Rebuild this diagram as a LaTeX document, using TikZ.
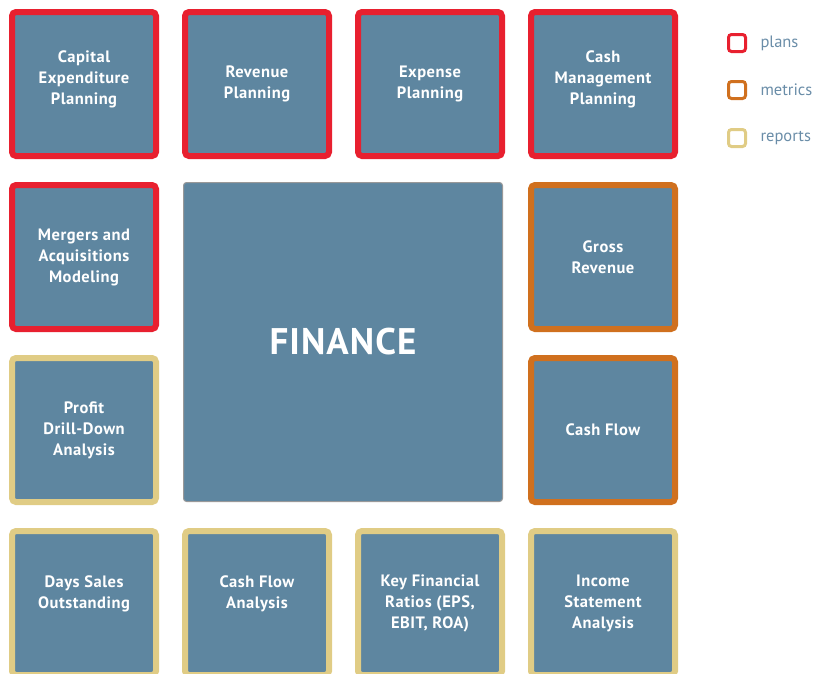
\documentclass[tikz,border=0pt]{standalone}
\usepackage{fontspec}
\setmainfont{PT Sans}
\newfontfamily\tilefont{PT Sans}[LetterSpace=3]
\usetikzlibrary{positioning}
\definecolor{tileblue}{HTML}{5E86A0}
\definecolor{planred}{HTML}{E8202F}
\definecolor{metricorange}{HTML}{D0701E}
\definecolor{reporttan}{HTML}{E0CC85}
\definecolor{keytext}{HTML}{6A8DA8}
\tikzstyle{tile}=[rectangle, fill=tileblue, line width=6pt, rounded corners=4pt, minimum size=144pt, inner sep=0pt, text=white, align=center, font=\tilefont\bfseries\fontsize{16.5}{21}\selectfont]
\tikzstyle{plan}=[tile, draw=planred]
\tikzstyle{metric}=[tile, draw=metricorange]
\tikzstyle{report}=[tile, draw=reporttan]
\tikzstyle{hub}=[rectangle, fill=tileblue, draw=gray!80, line width=1pt, rounded corners=3pt, minimum size=319pt, inner sep=0pt, text=white, font=\tilefont\bfseries\fontsize{37}{42}\selectfont]
\tikzstyle{key}=[rectangle, fill=white, line width=3pt, rounded corners=3pt, minimum size=17pt, inner sep=0pt]
\tikzstyle{keylabel}=[text=keytext, font=\fontsize{16.5}{19}\selectfont]

\begin{document}
\begin{tikzpicture}[node distance=173pt]
				\useasboundingbox (0,0) rectangle (817pt,-673pt);
				\node[plan] (capex) at (84pt,-84pt) {Capital\\Expenditure\\Planning\\[-9pt]};
				\node[plan] (revenue) [right of=capex] {Revenue\\Planning};
				\node[plan] (expense) [right of=revenue] {Expense\\Planning};
				\node[plan] (cashmgmt) [right of=expense] {Cash\\Management\\Planning\\[-9pt]};
				\node[plan] (mergers) [below of=capex] {Mergers and\\Acquisitions\\Modeling};

				\node[metric] (gross) [below of=cashmgmt] {Gross\\Revenue};
				\node[metric] (cashflow) [below of=gross] {Cash Flow};

				\node[report] (profit) [below of=mergers] {Profit\\Drill-Down\\Analysis};
				\node[report] (dso) [below of=profit] {Days Sales\\Outstanding\\[0pt]};
				\node[report] (cfa) [right of=dso] {Cash Flow\\Analysis\\[0pt]};
				\node[report] (ratios) [right of=cfa] {Key Financial\\Ratios (EPS,\\EBIT, ROA)};
				\node[report] (income) [right of=ratios] {Income\\Statement\\Analysis};

				\node[hub] (finance) at (343pt,-342pt) {FINANCE};

				% legend
				\node[key, draw=planred] (kplans) at (737pt,-43pt) [label={[keylabel, xshift=10pt]0:plans}] {};
				\node[key, draw=metricorange] (kmetrics) [below of=kplans, node distance=47pt, label={[keylabel, xshift=10pt]0:metrics}] {};
				\node[key, draw=reporttan] (kreports) [below of=kmetrics, node distance=48pt, label={[keylabel, xshift=10pt]0:reports}] {};
			\end{tikzpicture}
\end{document}
